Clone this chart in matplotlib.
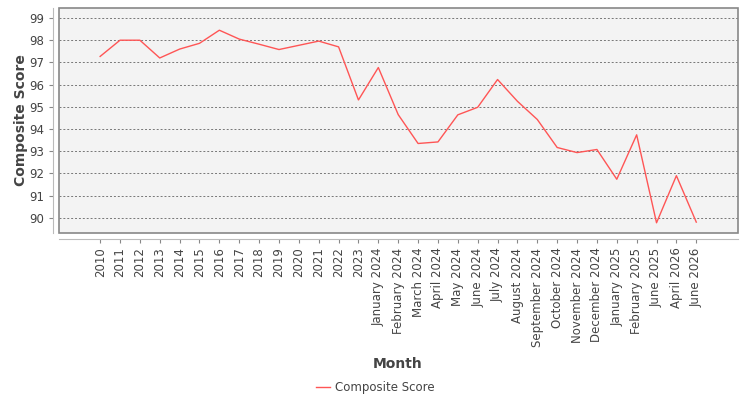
import matplotlib
matplotlib.use("Agg")
import matplotlib.pyplot as plt
from matplotlib.patches import Rectangle

months = ["2010", "2011", "2012", "2013", "2014", "2015", "2016", "2017",
          "2018", "2019", "2020", "2021", "2022", "2023",
          "January 2024", "February 2024", "March 2024", "April 2024",
          "May 2024", "June 2024", "July 2024", "August 2024",
          "September 2024", "October 2024", "November 2024",
          "December 2024", "January 2025", "February 2025", "June 2025",
          "April 2026", "June 2026"]
scores = [97.27, 98.0, 98.0, 97.2, 97.6, 97.86, 98.45, 98.05,
          97.82, 97.58, 97.77, 97.96, 97.7, 95.31,
          96.77, 94.65, 93.35, 93.42,
          94.64, 94.98, 96.23, 95.25,
          94.43, 93.17, 92.94,
          93.08, 91.74, 93.74, 89.78,
          91.9, 89.81]
yticks = [90, 91, 92, 93, 94, 95, 96, 97, 98, 99]

plt.rcParams['font.family'] = ['DejaVu Sans']
fig = plt.figure(figsize=(7.5, 4), dpi=100)
ax = fig.add_axes([59/750, 1 - 233/400, (738-59)/750, (233-8)/400])
ax.set_facecolor("#f3f3f3")

x = list(range(len(months)))
ax.plot(x, scores, color="#ff5555", lw=1, label="Composite Score")

ax.set_xlim(-2.07, len(months) - 1 + 2.1)
ax.set_ylim(89.32, 99.45)
ax.set_yticks(yticks)
ax.set_xticks(x)
ax.set_xticklabels(months)
ax.tick_params(colors="#888888", labelcolor="#444444", labelsize=8.5,
               length=3, width=0.8)
ax.tick_params(axis="x", labelrotation=90)
ax.grid(axis="y", color="#777777", ls=(0, (2, 2)), lw=0.7)
ax.set_axisbelow(True)

for s in ["top", "right"]:
    ax.spines[s].set_visible(False)
for s in ["left", "bottom"]:
    ax.spines[s].set_position(("outward", 4))
    ax.spines[s].set_color("#bbbbbb")
ax.add_patch(Rectangle((0, 0), 1, 1, transform=ax.transAxes, fill=False,
                       edgecolor="#888888", lw=1.2, clip_on=False, zorder=5))

ax.set_ylabel("Composite Score", fontsize=10, fontweight="bold",
              color="#444444", labelpad=1)
ax.set_xlabel("Month", fontsize=10, fontweight="bold", color="#444444")
ax.xaxis.set_label_coords((398 - 59) / (738 - 59), -(357 - 233) / (233 - 8))

ax.legend(loc="center", bbox_to_anchor=(375/750, 1 - 388/400),
          bbox_transform=fig.transFigure, frameon=False, fontsize=8.5,
          handlelength=1.2, handletextpad=0.4, labelcolor="#444444")

fig.savefig("out.png", dpi=100)
